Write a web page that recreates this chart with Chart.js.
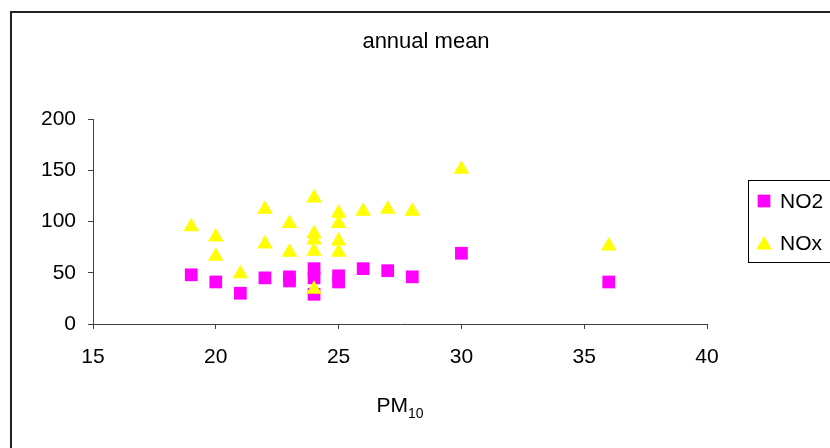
<!DOCTYPE html>
<html>
<head>
<meta charset="utf-8">
<script src="https://cdn.jsdelivr.net/npm/chart.js@4.4.0/dist/chart.umd.min.js"></script>
<style>
  html, body { margin: 0; padding: 0; background: #fff; }
  #wrap { width: 830px; height: 448px; }
</style>
</head>
<body>
<div id="wrap"><canvas id="chart"></canvas></div>
<script>
// PM10 (x) vs annual mean concentrations
const no2Pm  = [19, 20, 21, 22, 23, 23, 24, 24, 24, 25, 25, 26, 27, 28, 30, 36];
const no2Val = [48, 41, 30, 45, 42, 46, 54, 45, 29, 47, 41, 54, 52, 46, 69, 41];

const noxPm  = [19, 20, 20, 21, 22, 22, 23, 23, 24, 24, 24, 24, 24, 25, 25, 25, 25, 26, 27, 28, 30, 36];
const noxVal = [95, 85, 66, 49, 112, 78, 98, 70, 123, 88, 82, 71, 34, 108, 98, 81, 70, 110, 112, 110, 151, 76];

const seriesNames = ['NO2', 'NOx'];
const chartTitle = 'annual mean';

const toPoints = (xs, ys) => xs.map((x, i) => ({ x: x, y: ys[i] }));

const font = 'Liberation Sans, Arial, sans-serif';
const axisColor = '#404040';

// title, x-axis title with subscript, outer frame and legend box
const decor = {
  id: 'decor',
  afterDraw(chart) {
    const ctx = chart.ctx;
    const area = chart.chartArea;
    ctx.save();
    ctx.strokeStyle = '#222';
    ctx.lineWidth = 2;
    ctx.strokeRect(11, 12, 900, 900);

    ctx.fillStyle = '#000';
    ctx.textBaseline = 'alphabetic';
    ctx.textAlign = 'center';
    ctx.font = '22px ' + font;
    ctx.fillText(chartTitle, 426, 48);

    // PM10
    const cx = (area.left + area.right) / 2;
    ctx.font = '21px ' + font;
    const w1 = ctx.measureText('PM').width;
    ctx.font = '14px ' + font;
    const w2 = ctx.measureText('10').width;
    const start = cx - (w1 + w2) / 2;
    ctx.textAlign = 'left';
    ctx.font = '21px ' + font;
    ctx.fillText('PM', start, 412);
    ctx.font = '14px ' + font;
    ctx.fillText('10', start + w1, 418);

    // legend
    ctx.strokeStyle = '#000';
    ctx.lineWidth = 1;
    ctx.strokeRect(748.5, 180.5, 100, 82);
    ctx.font = '21px ' + font;
    ctx.textBaseline = 'middle';
    chart.data.datasets.forEach((ds, i) => {
      const y = 201 + i * 42;
      ctx.fillStyle = ds.backgroundColor;
      Chart.helpers.drawPoint(ctx, {
        pointStyle: ds.pointStyle, radius: ds.pointRadius, rotation: 0, borderWidth: 0
      }, 764, y + (i === 1 ? 2 : 0));
      ctx.fillStyle = '#000';
      ctx.fillText(ds.label, 780, y + 1);
    });
    ctx.restore();
  }
};

new Chart(document.getElementById('chart'), {
  type: 'scatter',
  data: {
    datasets: [
      {
        label: seriesNames[0],
        data: toPoints(no2Pm, no2Val),
        pointStyle: 'rect',
        pointRadius: 9,
        pointHoverRadius: 9,
        backgroundColor: '#FF00FF',
        borderColor: '#FF00FF',
        borderWidth: 0,
        order: 1
      },
      {
        label: seriesNames[1],
        data: toPoints(noxPm, noxVal),
        pointStyle: 'triangle',
        pointRadius: 9,
        pointHoverRadius: 9,
        backgroundColor: '#FFFF00',
        borderColor: '#FFFF00',
        borderWidth: 0,
        order: 0
      }
    ]
  },
  options: {
    responsive: true,
    maintainAspectRatio: false,
    animation: false,
    devicePixelRatio: 1,
    layout: { padding: { left: 0, top: 119, right: 123, bottom: 0 } },
    plugins: {
      legend: { display: false },
      title: { display: false },
      tooltip: { enabled: false }
    },
    scales: {
      x: {
        type: 'linear',
        min: 15,
        max: 40,
        ticks: { stepSize: 5, color: '#000', font: { family: font, size: 21 }, padding: 16, maxRotation: 0 },
        grid: { drawOnChartArea: false, drawTicks: true, tickLength: 5, color: axisColor },
        border: { color: axisColor, width: 1 },
        afterFit(scale) { scale.height = 124; }
      },
      y: {
        min: 0,
        max: 200,
        ticks: { stepSize: 50, color: '#000', font: { family: font, size: 21 }, padding: 12 },
        grid: { drawOnChartArea: false, drawTicks: true, tickLength: 5, color: axisColor },
        border: { color: axisColor, width: 1 },
        afterFit(scale) { scale.width = 93; }
      }
    }
  },
  plugins: [decor]
});
</script>
</body>
</html>
